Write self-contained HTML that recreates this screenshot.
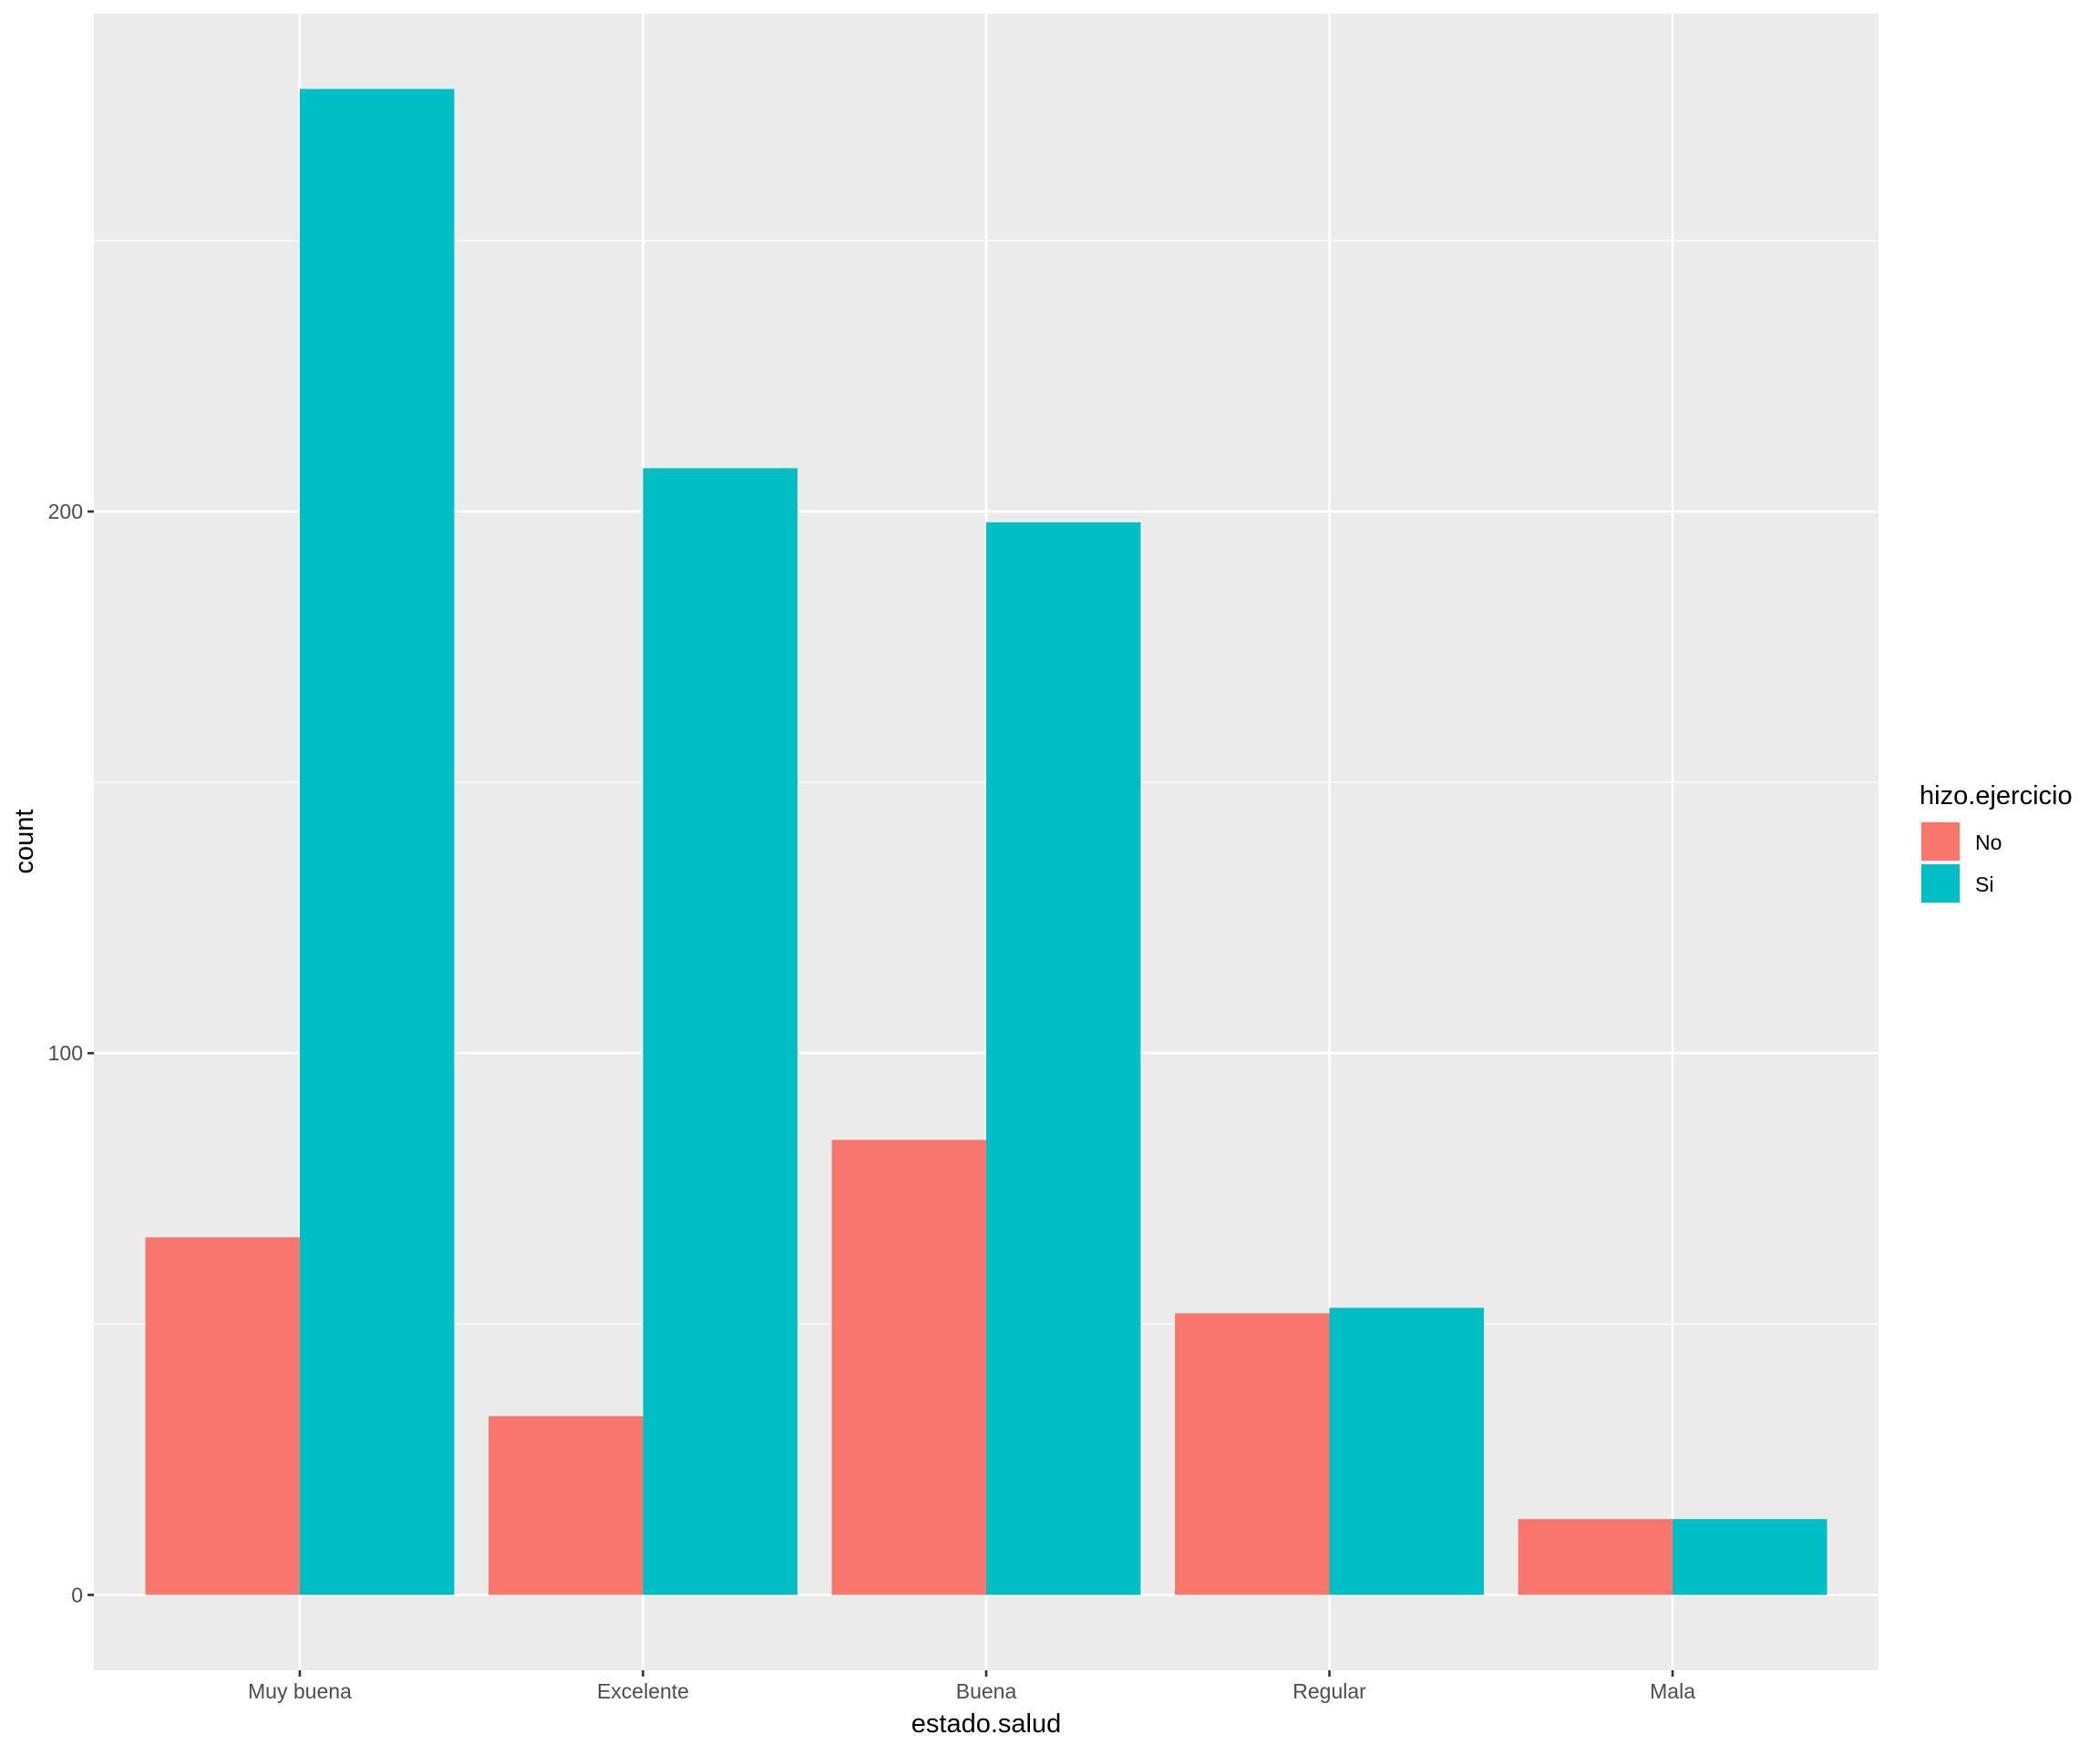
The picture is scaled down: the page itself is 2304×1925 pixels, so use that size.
<!DOCTYPE html>
<html><head><meta charset="utf-8"><style>
body{margin:0;background:#fff;}
svg text{font-family:"Liberation Sans",sans-serif;}
</style></head><body>
<svg id="chart" width="2304" height="1920" xmlns="http://www.w3.org/2000/svg">
<rect x="0" y="0" width="2304" height="1920" fill="#fff"/>
<rect x="103" y="15" width="1958" height="1817" fill="#ebebeb"/>
<g id="grid"></g>
<g id="bars"></g>
<g id="axes"></g>
<text x="1082" y="1900" font-size="29" text-anchor="middle" fill="#000">estado.salud</text>
<text x="0" y="0" font-size="29" text-anchor="middle" fill="#000" transform="translate(36,923) rotate(-90)">count</text>
<g>
<text x="2106" y="882" font-size="29" fill="#000">hizo.ejercicio</text>
<rect x="2106" y="900" width="46" height="92" fill="#f2f2f2"/>
<rect x="2108" y="902" width="42" height="42" fill="#F8766D"/>
<rect x="2108" y="948" width="42" height="42" fill="#00BFC4"/>
<text x="2167" y="932" font-size="23" fill="#000">No</text>
<text x="2167" y="978" font-size="23" fill="#000">Si</text>
</g>
</svg>
<script>
const categories = ["Muy buena","Excelente","Buena","Regular","Mala"];
const seriesNo = [66,33,84,52,14];
const seriesSi = [278,208,198,53,14];
const yTicks = [0,100,200];
const yMinor = [50,150,250];
const NS="http://www.w3.org/2000/svg";
const panel={l:103,r:2061,t:15,b:1832};
const ymax=Math.max(...seriesNo,...seriesSi);
const y0=-0.05*ymax, y1=ymax*1.05;
function y(v){return panel.b-(v-y0)/(y1-y0)*(panel.b-panel.t);}
const step=(panel.r-panel.l)/(categories.length+0.2);
function x(i){return panel.l+(0.6+i)*step;}
function mk(tag,attrs,parent){const e=document.createElementNS(NS,tag);for(const k in attrs)e.setAttribute(k,attrs[k]);parent.appendChild(e);return e;}
const grid=document.getElementById('grid'),bars=document.getElementById('bars'),axes=document.getElementById('axes');
yMinor.forEach(v=>{if(v>y1)return;const l=mk('line',{x1:panel.l,x2:panel.r,y1:y(v),y2:y(v),stroke:'#fff','stroke-width':1.3},grid);

});
yTicks.forEach(v=>{const l=mk('line',{x1:panel.l,x2:panel.r,y1:y(v),y2:y(v),stroke:'#fff','stroke-width':2.6},grid);


const t=mk('line',{x1:panel.l-7,x2:panel.l,y1:y(v),y2:y(v),stroke:'#333','stroke-width':2.6},axes);


const tx=mk('text',{x:panel.l-12,y:y(v)+8,'font-size':23,'text-anchor':'end',fill:'#4d4d4d'},axes);tx.textContent=v;

});
const bw=step*0.45;
categories.forEach((c,i)=>{const cx=x(i);
const g=mk('line',{x1:cx,x2:cx,y1:panel.t,y2:panel.b,stroke:'#fff','stroke-width':2.6},grid);


const b1=mk('rect',{x:cx-bw,y:y(seriesNo[i]),width:bw,height:y(0)-y(seriesNo[i]),fill:'#F8766D'},bars);


const b2=mk('rect',{x:cx,y:y(seriesSi[i]),width:bw,height:y(0)-y(seriesSi[i]),fill:'#00BFC4'},bars);


const t=mk('line',{x1:cx,x2:cx,y1:panel.b,y2:panel.b+7,stroke:'#333','stroke-width':2.6},axes);


const tx=mk('text',{x:cx,y:panel.b+31,'font-size':23,'text-anchor':'middle',fill:'#4d4d4d'},axes);tx.textContent=c;

});
</script>
</body></html>
